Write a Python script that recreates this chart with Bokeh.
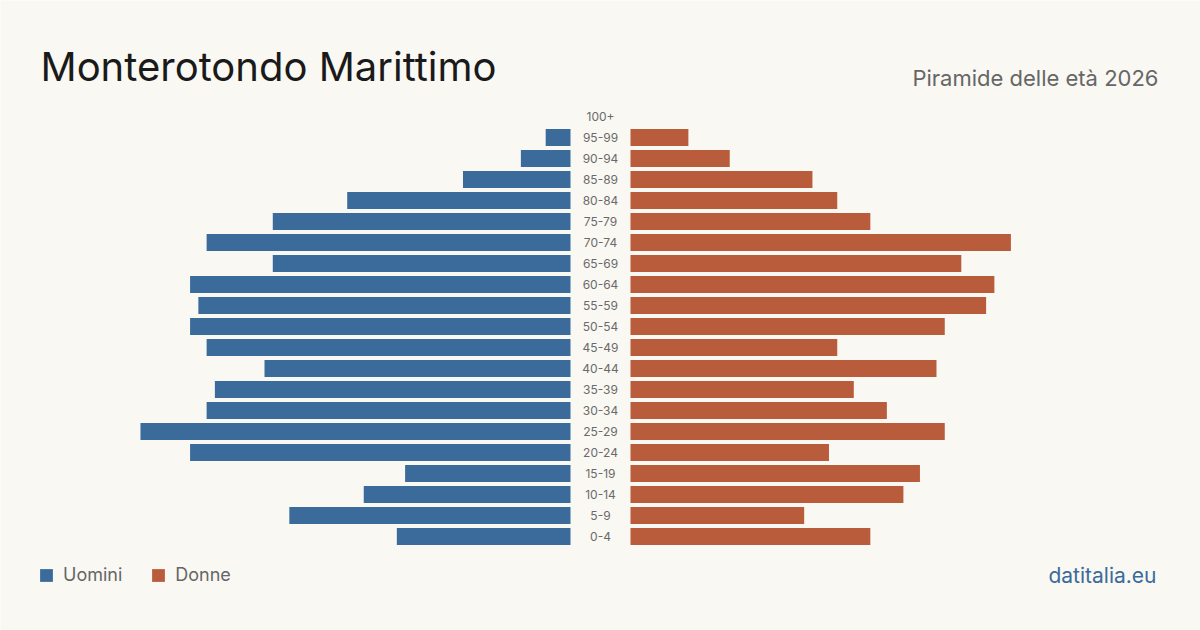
from bokeh.plotting import figure
from bokeh.models import Label, Legend, LegendItem, ColumnDataSource, Range1d
from bokeh.core.properties import value
from bokeh.embed import file_html
from bokeh.resources import INLINE

# Data (bottom to top)
ages = ["0-4", "5-9", "10-14", "15-19", "20-24", "25-29", "30-34", "35-39", "40-44",
        "45-49", "50-54", "55-59", "60-64", "65-69", "70-74", "75-79", "80-84",
        "85-89", "90-94", "95-99", "100+"]
men = [21, 34, 25, 20, 46, 52, 44, 43, 37, 44, 46, 45, 46, 36, 44, 36, 27, 13, 6, 3, 0]
women = [29, 21, 33, 35, 24, 38, 31, 27, 37, 25, 38, 43, 44, 40, 46, 29, 25, 22, 12, 7, 0]

title = "Monterotondo  Marittimo"
subtitle = "Piramide delle età 2026"
brand = "datitalia.eu"

BG = "#faf8f3"
BLUE = "#3a6b9b"
ORANGE = "#b95c3c"
FONT = "Inter"

W, H = 1200, 630
PX_X = 8.27      # pixels per person
PX_Y = 21.0      # pixels per row
HALF_GAP = 30 / PX_X
y0 = 94.0 / PX_Y  # bottom row centre offset from bottom

idx = list(range(len(ages)))
src = ColumnDataSource(dict(
    y=idx,
    age=ages,
    m_left=[-HALF_GAP - v for v in men],
    m_right=[-HALF_GAP] * len(men),
    w_left=[HALF_GAP] * len(women),
    w_right=[HALF_GAP + v for v in women],
))

p = figure(width=W, height=H, output_backend="svg", toolbar_location=None,
           x_range=Range1d(-W / 2 / PX_X, W / 2 / PX_X),
           y_range=Range1d(-y0, -y0 + H / PX_Y),
           min_border=0, border_fill_color=BG, background_fill_color=BG,
           outline_line_color=None)
p.axis.visible = False
p.grid.visible = False

bh = 17 / PX_Y
r_m = p.hbar(y="y", left="m_left", right="m_right", height=bh, source=src,
             fill_color=BLUE, line_color=None)
r_w = p.hbar(y="y", left="w_left", right="w_right", height=bh, source=src,
             fill_color=ORANGE, line_color=None)

p.text(x=0, y="y", text="age", source=src, text_align="center", text_baseline="middle",
       text_font=value(FONT), text_font_size="12px", text_color="#6a6a6a")

p.add_layout(Label(x=40, y=H - 66, x_units="screen", y_units="screen", text=title,
                   text_font=FONT, text_font_size="40px", text_color="#1a1a1a",
                   text_baseline="alphabetic"))
p.add_layout(Label(x=1158, y=H - 77, x_units="screen", y_units="screen", text=subtitle,
                   text_font=FONT, text_font_size="22px", text_color="#666666",
                   text_align="right", text_baseline="alphabetic"))
p.add_layout(Label(x=1156, y=H - 575, x_units="screen", y_units="screen", text=brand,
                   text_font=FONT, text_font_size="21px", text_color=BLUE,
                   text_align="right", text_baseline="alphabetic"))

legend = Legend(items=[LegendItem(label="Uomini", renderers=[r_m]),
                       LegendItem(label="Donne", renderers=[r_w])],
                location=(38, H - 585), orientation="horizontal",
                glyph_width=16, glyph_height=16, label_height=16,
                label_standoff=9, spacing=28, padding=0, margin=0,
                border_line_color=None, background_fill_alpha=0,
                label_text_font=FONT, label_text_font_size="18px",
                label_text_color="#666666")
p.add_layout(legend, "center")

open("out.html", "w").write(file_html(p, INLINE))
